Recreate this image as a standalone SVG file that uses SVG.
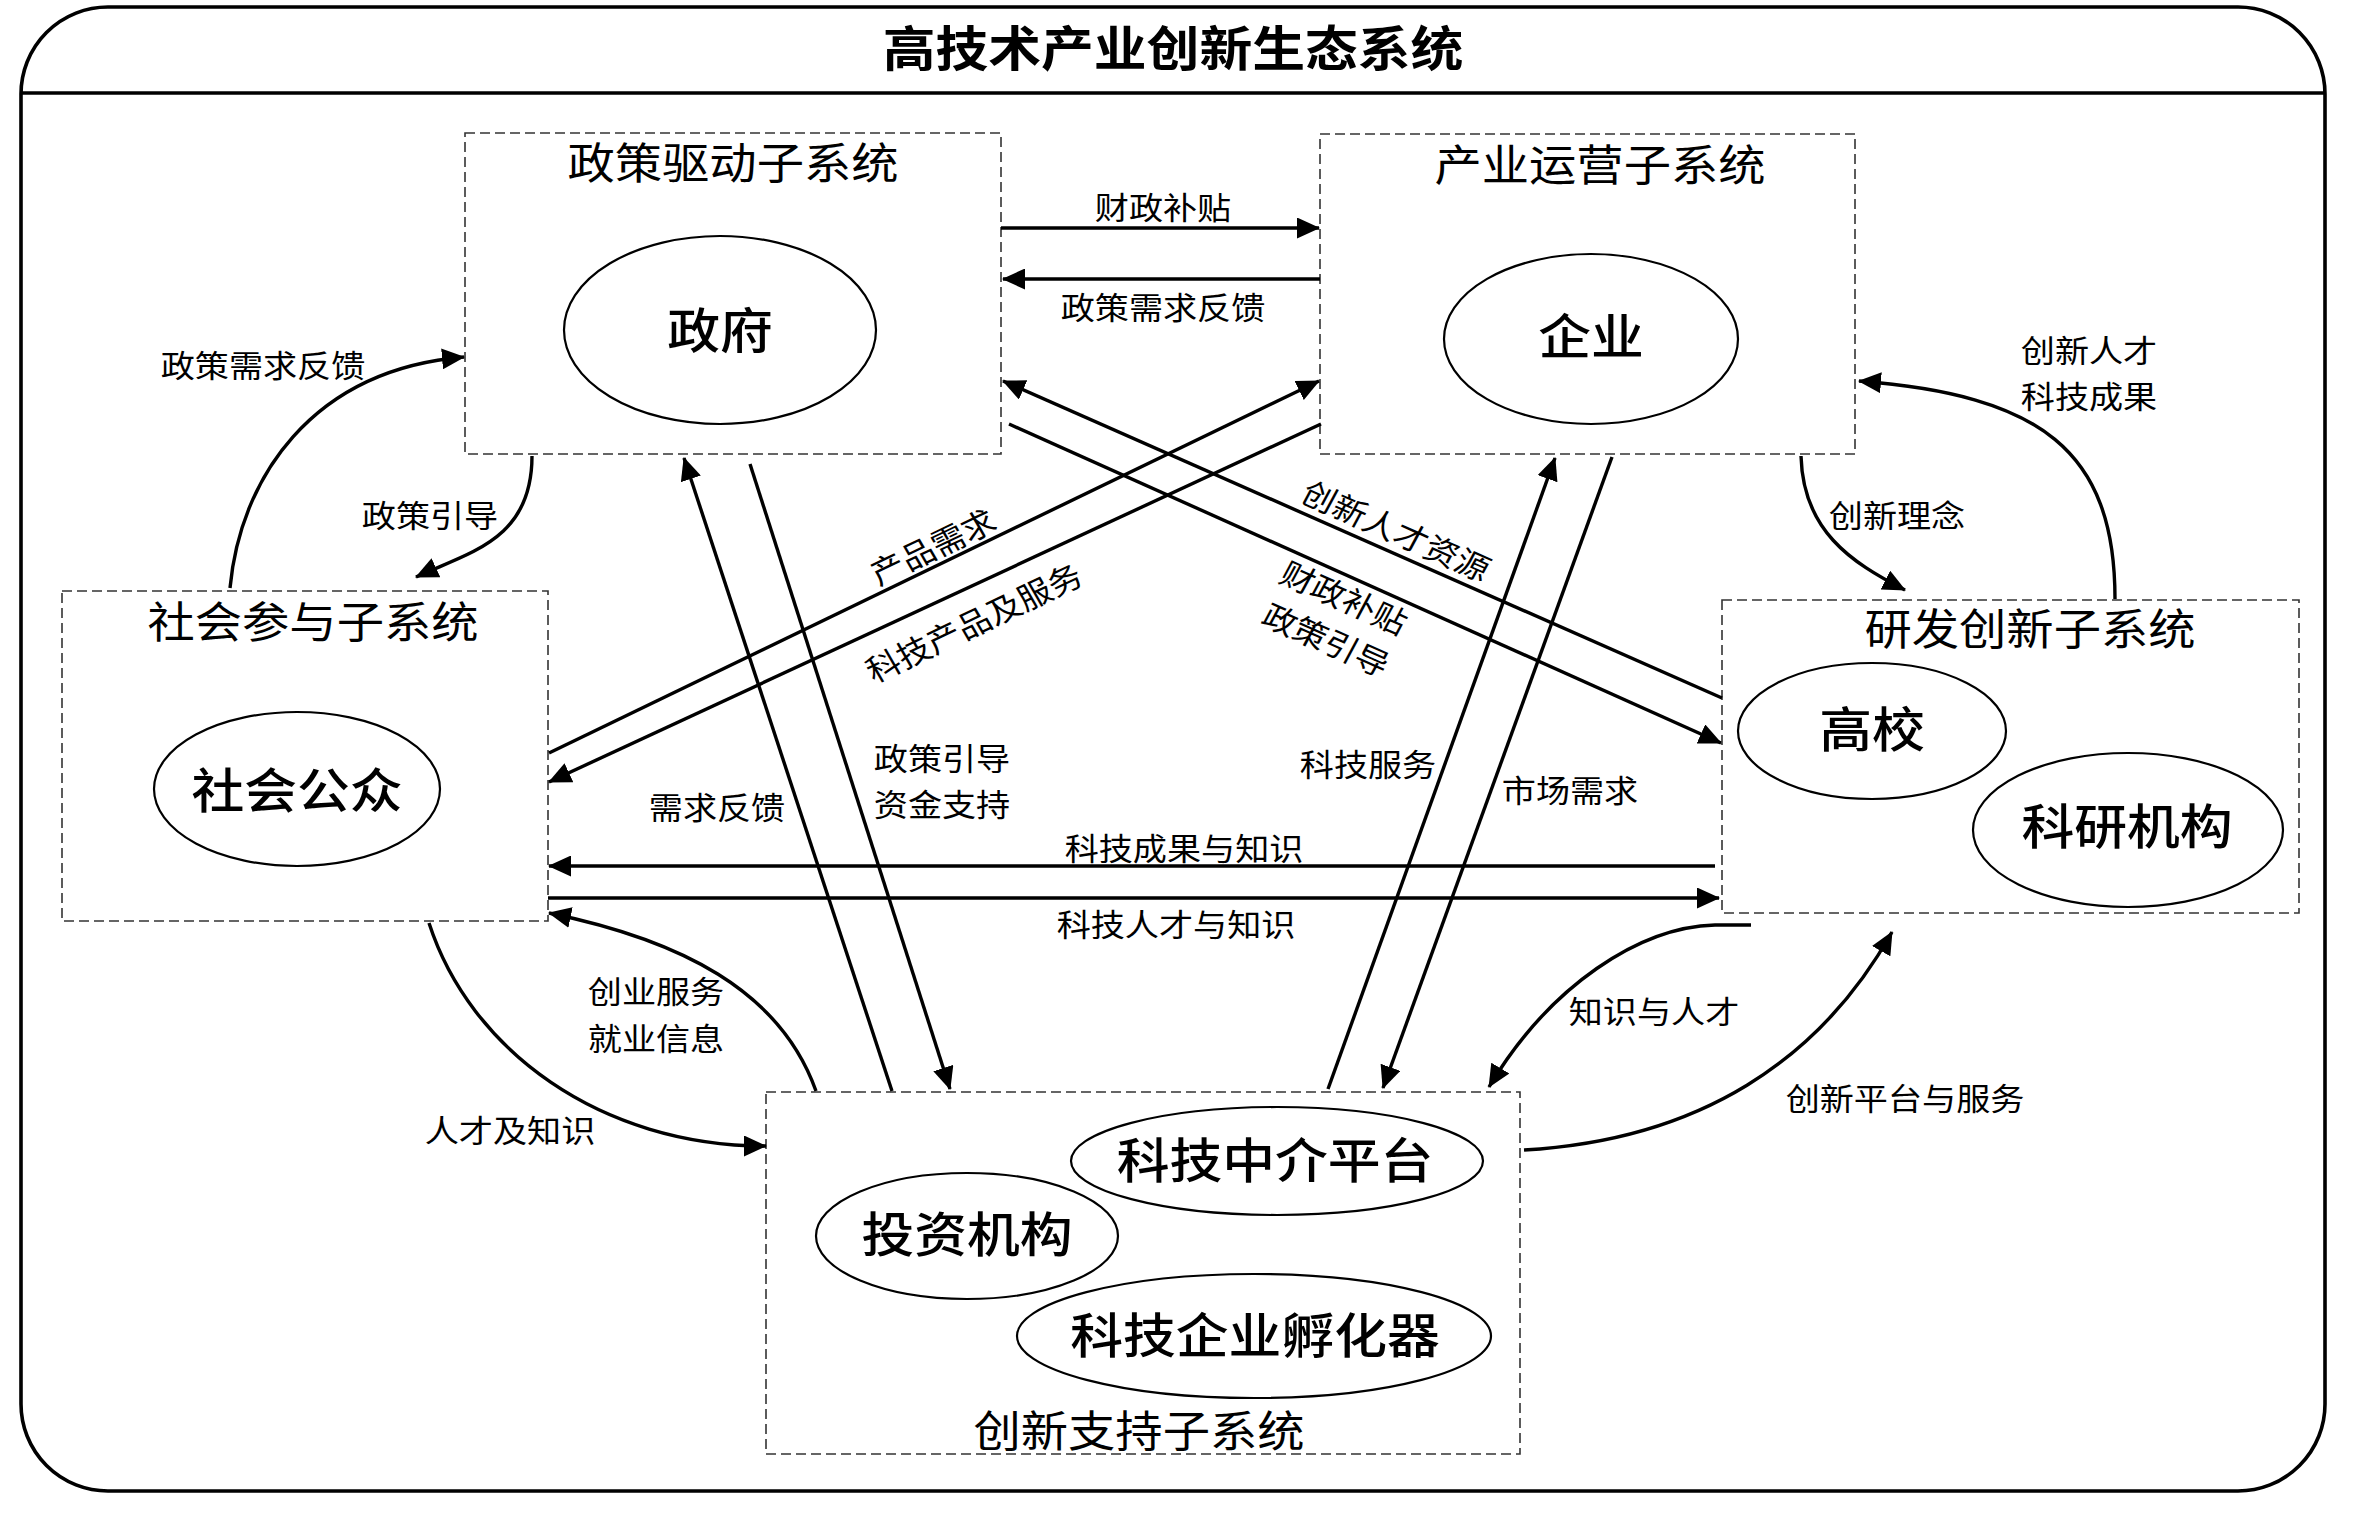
<svg xmlns="http://www.w3.org/2000/svg" width="2362" height="1513" viewBox="0 0 2362 1513">
<defs>
<style>
text{font-family:"Noto Sans CJK SC","Noto Sans CJK JP",sans-serif;fill:#000;text-anchor:middle}
.title{font-size:48px;font-weight:700}
.sub{font-size:43px;font-weight:400}
.ell{font-size:48px;font-weight:500}
.lbl{font-size:31px;font-weight:400}
.box{fill:none;stroke:#333;stroke-width:1.6;stroke-dasharray:10 5}
.node{fill:#fff;stroke:#000;stroke-width:2.2}
.c{fill:none;stroke:#000;stroke-width:3.4;marker-end:url(#ah)}
</style>
<marker id="ah" viewBox="0 0 23 21" refX="22" refY="10.5" markerWidth="23" markerHeight="21" markerUnits="userSpaceOnUse" orient="auto">
<path d="M0,0 L23,10.5 L0,21 Z" fill="#000"/>
</marker>
</defs>
<rect width="2362" height="1513" fill="#fff"/>
<g id="frame">
<rect x="21" y="7" width="2304" height="1484" rx="87" ry="87" fill="none" stroke="#000" stroke-width="3.6"/>
<line x1="21" y1="93" x2="2325" y2="93" stroke="#000" stroke-width="3.6"/>
<text class="title" transform="translate(1173,48) scale(1.1,1)" y="18">高技术产业创新生态系统</text>
</g>
<g id="policy">
<rect class="box" x="465" y="133" width="536" height="321"/>
<text class="sub" transform="translate(733,163) scale(1.1,1)" y="16">政策驱动子系统</text>
<ellipse class="node" cx="720" cy="330" rx="156" ry="94"/>
<text class="ell" transform="translate(720,330) scale(1.1,1)" y="18">政府</text>
</g>
<g id="industry">
<rect class="box" x="1320" y="134" width="535" height="320"/>
<text class="sub" transform="translate(1600,165) scale(1.1,1)" y="16">产业运营子系统</text>
<ellipse class="node" cx="1591" cy="339" rx="147" ry="85"/>
<text class="ell" transform="translate(1591,336) scale(1.1,1)" y="18">企业</text>
</g>
<g id="social">
<rect class="box" x="62" y="591" width="486" height="330"/>
<text class="sub" transform="translate(313,622) scale(1.1,1)" y="16">社会参与子系统</text>
<ellipse class="node" cx="297" cy="789" rx="143" ry="77"/>
<text class="ell" transform="translate(297,790) scale(1.1,1)" y="18">社会公众</text>
</g>
<g id="rnd">
<rect class="box" x="1722" y="600" width="577" height="313"/>
<text class="sub" transform="translate(2030,629) scale(1.1,1)" y="16">研发创新子系统</text>
<ellipse class="node" cx="1872" cy="731" rx="134" ry="68"/>
<text class="ell" transform="translate(1872,729) scale(1.1,1)" y="18">高校</text>
<ellipse class="node" cx="2128" cy="830" rx="155" ry="77"/>
<text class="ell" transform="translate(2127,826) scale(1.1,1)" y="18">科研机构</text>
</g>
<g id="support">
<rect class="box" x="766" y="1092" width="754" height="362"/>
<text class="sub" transform="translate(1139,1431) scale(1.1,1)" y="16">创新支持子系统</text>
<ellipse class="node" cx="1277" cy="1161" rx="206" ry="54"/>
<text class="ell" transform="translate(1275,1160) scale(1.1,1)" y="18">科技中介平台</text>
<ellipse class="node" cx="967" cy="1236" rx="151" ry="63"/>
<text class="ell" transform="translate(967,1234) scale(1.1,1)" y="18">投资机构</text>
<ellipse class="node" cx="1254" cy="1336" rx="237" ry="62"/>
<text class="ell" transform="translate(1255,1335) scale(1.1,1)" y="18">科技企业孵化器</text>
</g>
<g id="connectors">
<path class="c" d="M1001,228 L1319,228"/>
<path class="c" d="M1320,279 L1003,279"/>
<path class="c" d="M1722,698 L1003,381"/>
<path class="c" d="M1009,424 L1721,743"/>
<path class="c" d="M549,753 L1319,381"/>
<path class="c" d="M1321,424 L549,782"/>
<path class="c" d="M892,1091 L684,458"/>
<path class="c" d="M750,464 L950,1089"/>
<path class="c" d="M1328,1089 L1555,458"/>
<path class="c" d="M1612,457 L1383,1088"/>
<path class="c" d="M1715,866 L549,866"/>
<path class="c" d="M548,898 L1719,898"/>
<path class="c" d="M230,588 C240,480 310,370 464,357"/>
<path class="c" d="M532,456 C532,540 470,552 416,577"/>
<path class="c" d="M429,923 C470,1050 600,1146 766,1146"/>
<path class="c" d="M816,1091 C780,990 680,940 549,913"/>
<path class="c" d="M1801,456 C1803,530 1850,562 1905,590"/>
<path class="c" d="M2115,599 C2115,450 2040,395 1859,381"/>
<path class="c" d="M1751,925 L1715,925 C1640,927 1550,985 1489,1087"/>
<path class="c" d="M1524,1150 C1700,1140 1820,1060 1892,932"/>
</g>
<g id="labels">
<text class="lbl" transform="translate(1163,207) scale(1.1,1)" y="11.5">财政补贴</text>
<text class="lbl" transform="translate(1163,307) scale(1.1,1)" y="11.5">政策需求反馈</text>
<text class="lbl" transform="translate(263,365) scale(1.1,1)" y="11.5">政策需求反馈</text>
<text class="lbl" transform="translate(430,515) scale(1.1,1)" y="11.5">政策引导</text>
<text class="lbl" transform="translate(933,547) scale(1.1,1) rotate(-27.7)" y="11.5">产品需求</text>
<text class="lbl" transform="translate(974,623) scale(1.1,1) rotate(-27.7)" y="11.5">科技产品及服务</text>
<text class="lbl" transform="translate(1396,531) scale(1.1,1) rotate(26)" y="11.5">创新人才资源</text>
<text class="lbl" transform="translate(1344,598) scale(1.1,1) rotate(26)" y="11.5">财政补贴</text>
<text class="lbl" transform="translate(1326,640) scale(1.1,1) rotate(26)" y="11.5">政策引导</text>
<text class="lbl" transform="translate(717,807) scale(1.1,1)" y="11.5">需求反馈</text>
<text class="lbl" transform="translate(942,758) scale(1.1,1)" y="11.5">政策引导</text>
<text class="lbl" transform="translate(942,804) scale(1.1,1)" y="11.5">资金支持</text>
<text class="lbl" transform="translate(1368,764) scale(1.1,1)" y="11.5">科技服务</text>
<text class="lbl" transform="translate(1570,790) scale(1.1,1)" y="11.5">市场需求</text>
<text class="lbl" transform="translate(1184,848) scale(1.1,1)" y="11.5">科技成果与知识</text>
<text class="lbl" transform="translate(1176,924) scale(1.1,1)" y="11.5">科技人才与知识</text>
<text class="lbl" transform="translate(656,991) scale(1.1,1)" y="11.5">创业服务</text>
<text class="lbl" transform="translate(656,1038) scale(1.1,1)" y="11.5">就业信息</text>
<text class="lbl" transform="translate(510,1130) scale(1.1,1)" y="11.5">人才及知识</text>
<text class="lbl" transform="translate(1897,515) scale(1.1,1)" y="11.5">创新理念</text>
<text class="lbl" transform="translate(2089,350) scale(1.1,1)" y="11.5">创新人才</text>
<text class="lbl" transform="translate(2089,396) scale(1.1,1)" y="11.5">科技成果</text>
<text class="lbl" transform="translate(1654,1011) scale(1.1,1)" y="11.5">知识与人才</text>
<text class="lbl" transform="translate(1905,1098) scale(1.1,1)" y="11.5">创新平台与服务</text>
</g>
</svg>
